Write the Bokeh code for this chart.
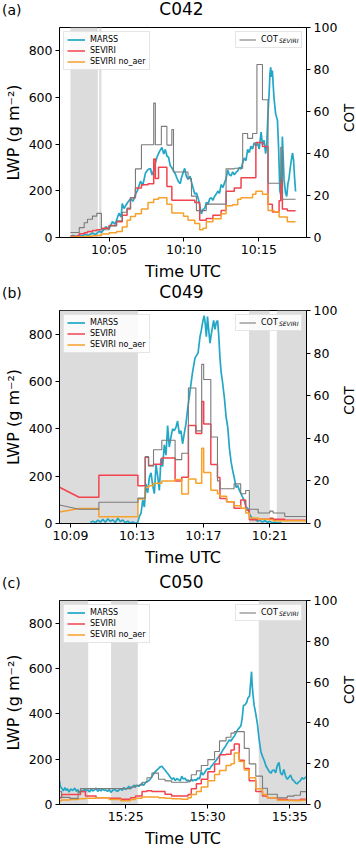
import math
from bokeh.plotting import figure
from bokeh.models import (Range1d, LinearAxis, FixedTicker, Legend, LegendItem,
                          Label, BoxAnnotation)
from bokeh.layouts import column, row
from bokeh.embed import file_html
from bokeh.resources import INLINE

# ---------------- data (time in minutes after midnight UTC) ----------------
# Panel (a) C042
marss_a_t = [602.45, 602.6, 602.8, 603.0, 603.2, 603.4, 603.6, 603.9, 604.1, 604.34, 604.5, 604.78,
             605.0, 605.22, 605.4, 605.66, 605.8, 605.88, 606.0, 606.1, 606.25, 606.43, 606.6, 606.77,
             606.9, 607.1, 607.25, 607.43, 607.6, 607.76, 607.87, 607.98, 608.1, 608.2, 608.35, 608.53,
             608.65, 608.75, 608.87, 608.97, 609.08, 609.19, 609.3, 609.42, 609.53, 609.64, 609.75, 609.83,
             609.95, 610.05, 610.15, 610.27, 610.4, 610.5, 610.6, 610.72, 610.83, 610.94, 611.05, 611.16,
             611.27, 611.38, 611.5, 611.6, 611.72, 611.82, 611.93, 612.04, 612.15, 612.26, 612.37, 612.48,
             612.6, 612.7, 612.81, 612.92, 613.03, 613.14, 613.25, 613.36, 613.47, 613.59, 613.7, 613.81,
             613.92, 614.03, 614.14, 614.25, 614.36, 614.47, 614.58, 614.69, 614.8, 614.91, 615.02, 615.15,
             615.24, 615.35, 615.45, 615.53, 615.6, 615.68, 615.74, 615.79, 615.85, 615.9, 615.96, 616.01,
             616.12, 616.24, 616.32, 616.4, 616.46, 616.52, 616.57, 616.62, 616.68, 616.78, 616.86, 616.94,
             617.01, 617.1, 617.2, 617.25, 617.32, 617.38, 617.45]
marss_a_v = [5, 9, 3, 11, 6, 14, 9, 19, 12, 27, 21, 46,
             37, 68, 57, 104, 88, 145, 124, 136, 151, 166, 156, 186,
             202, 241, 224, 276, 291, 296, 268, 287, 322, 345, 367, 386,
             358, 377, 348, 344, 309, 299, 286, 273, 254, 238, 231, 255,
             280, 296, 264, 249, 263, 238, 214, 186, 191, 169, 139, 101,
             121, 123, 151, 142, 166, 171, 159, 176, 186, 199, 189, 227,
             214, 233, 251, 289, 269, 264, 281, 269, 279, 286, 301, 293,
             321, 341, 329, 378, 364, 391, 379, 406, 394, 404, 379, 452,
             398, 416, 359, 401, 521, 612, 702, 729, 688, 716, 651, 598,
             531, 502, 381, 201, 183, 299, 433, 351, 249, 191, 176, 231,
             252, 301, 346, 362, 329, 261, 197]
sev_a_t = [602.42, 603.01, 603.34, 603.56, 603.89, 604.18, 604.49, 605.0, 605.5, 605.88, 606.2,
           606.43, 606.76, 607.16, 607.6, 607.98, 608.09, 608.3, 608.49, 608.86, 609.19, 609.3,
           609.97, 610.27, 610.5, 610.72, 610.83, 611.05, 611.27, 611.49, 611.6, 611.93, 612.04,
           612.48, 612.81, 613.25, 613.36, 613.59, 613.81, 613.92, 614.25, 614.58, 614.8, 614.87,
           615.24, 615.61, 615.9, 616.01, 616.35, 616.46, 616.57, 616.9, 617.45]
sev_a = [5, 16, 20, 26, 30, 33, 40, 51, 67, 95, 122, 170, 212, 226, 230, 336, 253, 301, 301, 219,
         160, 160, 160, 160, 160, 150, 150, 74, 74, 81, 81, 95, 95, 116, 198, 198, 212, 212, 256,
         256, 256, 256, 407, 407, 390, 143, 109, 109, 157, 246, 122, 115]
noaer_a = [2, 3, 4, 5, 7, 9, 15, 20, 26, 45, 74, 90, 102, 122, 150, 164, 164, 170, 170, 143,
           105, 105, 91, 74, 74, 60, 60, 33, 40, 67, 67, 80, 80, 102, 136, 140, 140, 164, 170,
           170, 170, 185, 198, 198, 185, 116, 116, 110, 88, 88, 88, 67]
cot_a = [2.4, 4.7, 7.0, 8.7, 10.2, 11.5, 3.7, 5.5, 8.0, 12, 14, 19, 32.7, 44.2, 44.2, 64, 44.2,
         44.2, 52.9, 44, 51.4, 31.2, 31.2, 28.1, 19.7, 19.7, 12.8, 12.8, 12.8, 15.9, 15.9, 15.9,
         15.9, 15.9, 32.7, 32.7, 33, 33, 33, 49.5, 47.2, 49.5, 49.5, 82.4, 65.6, 25.8, 25.8, 25.8,
         25.8, 43, 18.2, 18.2]
shade_a_start = [602.42, 604.34]
shade_a_end = [604.25, 604.49]
ticks_a = [605, 610, 615]
labels_a = ["10:05", "10:10", "10:15"]
xlim_a = (601.69, 618.18)

# Panel (b) C049
marss_b_t = [610.2, 610.35, 610.5, 610.65, 610.8, 610.95, 611.1, 611.25, 611.4, 611.55, 611.7, 611.85,
             612.0, 612.15, 612.3, 612.45, 612.6, 612.75, 612.9, 613.05, 613.15, 613.25, 613.35, 613.45,
             613.55, 613.65, 613.75, 613.85, 613.95, 614.05, 614.15, 614.25, 614.35, 614.45, 614.55,
             614.65, 614.75, 614.85, 614.95, 615.05, 615.15, 615.25, 615.35, 615.45, 615.55, 615.65,
             615.75, 615.85, 615.95, 616.05, 616.2, 616.35, 616.5, 616.68, 616.8, 616.88, 616.98,
             617.05, 617.12, 617.18, 617.25, 617.32, 617.4, 617.48, 617.55, 617.62, 617.7, 617.78,
             617.86, 617.93, 618.0, 618.07, 618.15, 618.27, 618.37, 618.47, 618.57, 618.67, 618.77,
             618.87, 618.97, 619.07, 619.17, 619.27, 619.37, 619.47, 619.57, 619.67, 619.77, 619.87,
             619.97, 620.1, 620.25, 620.4, 620.55, 620.7, 620.85, 621.0, 621.15, 621.3, 621.5, 621.7]
marss_b_v = [4, 10, 3, 14, 6, 18, 5, 20, 9, 16, 4, 22,
             8, 15, 3, 10, 2, 6, 1, 4, 30, 44, 99, 70,
             167, 130, 195, 214, 160, 126, 249, 200, 140, 275, 241,
             332, 289, 414, 323, 365, 400, 392, 406, 433, 380, 392,
             337, 380, 420, 480, 560, 640, 700, 720, 790, 817, 858,
             878, 840, 789, 874, 820, 762, 800, 830, 858, 820, 850,
             858, 790, 700, 640, 600, 529, 450, 406, 318, 260, 222,
             190, 153, 160, 140, 126, 110, 95, 70, 64, 40, 30,
             16, 20, 10, 14, 6, 12, 5, 9, 3, 6, 2, 4]
lead_b_t = [608.34, 609.52]
lead_sev_b = [153, 111]
lead_noaer_b = [49, 63]
lead_cot_b = [8.7, 6.7]
sev_b_t = [609.52, 610.71, 613.06, 613.5, 613.7, 614.0, 614.5, 615.3, 615.7, 616.1, 616.55, 616.9,
           617.02, 617.45, 617.85, 618.0, 618.4, 618.85, 619.25, 619.55, 619.77, 620.3, 621.0, 621.2,
           621.9, 623.21]
sev_b = [111, 204, 159, 280, 245, 250, 277, 180, 195, 414, 380, 516, 420, 249, 194, 106, 92, 64,
         99, 57, 16, 18, 22, 18, 14]
noaer_b = [63, 29, 104, 152, 160, 170, 180, 186, 125, 188, 170, 318, 215, 140, 126, 115, 92, 75,
           64, 44, 23, 18, 16, 12, 12]
cot_b = [6.7, 10.0, 11.9, 31.4, 27, 34.6, 39.1, 30, 33, 63.6, 43.5, 74.7, 67.6, 40.6, 20, 16.3,
         16.3, 18.6, 14, 15.5, 6.7, 4.9, 5.8, 4.9, 3.3]
shade_b_start = [608.34, 619.75, 621.42]
shade_b_end = [613.06, 621.0, 623.21]
ticks_b = [609, 613, 617, 621]
labels_b = ["10:09", "10:13", "10:17", "10:21"]
xlim_b = (608.34, 623.21)

# Panel (c) C050
marss_c_t = [920.97, 921.02, 921.1, 921.2, 921.3, 921.37, 921.45, 921.55, 921.65, 921.78, 921.9,
             922.0, 922.1, 922.18, 922.3, 922.4, 922.5, 922.58, 922.7, 922.8, 922.9, 922.99, 923.1,
             923.2, 923.3, 923.39, 923.5, 923.6, 923.7, 923.79, 923.9, 924.0, 924.1, 924.19, 924.3,
             924.4, 924.5, 924.6, 924.7, 924.8, 924.9, 925.0, 925.1, 925.2, 925.3, 925.4, 925.5,
             925.6, 925.7, 925.8, 925.9, 926.0, 926.1, 926.2, 926.3, 926.41, 926.5, 926.61, 926.7,
             926.81, 926.9, 927.01, 927.1, 927.22, 927.3, 927.42, 927.52, 927.62, 927.72, 927.82,
             927.92, 928.02, 928.12, 928.22, 928.32, 928.42, 928.52, 928.62, 928.72, 928.8, 928.9,
             929.0, 929.1, 929.21, 929.3, 929.41, 929.5, 929.61, 929.7, 929.81, 929.9, 930.01,
             930.1, 930.21, 930.3, 930.42, 930.52, 930.62, 930.72, 930.82, 930.92, 931.02, 931.12,
             931.22, 931.32, 931.42, 931.52, 931.62, 931.72, 931.82, 931.92, 932.03, 932.1, 932.18,
             932.28, 932.38, 932.45, 932.55, 932.62, 932.67, 932.72, 932.78, 932.83, 932.93, 933.03,
             933.13, 933.24, 933.35, 933.45, 933.55, 933.64, 933.75, 933.85, 933.94, 934.04, 934.14,
             934.24, 934.34, 934.44, 934.54, 934.64, 934.74, 934.85, 934.95, 935.05, 935.15, 935.25,
             935.35, 935.45, 935.55, 935.65, 935.75, 935.85, 935.95, 936.02]
marss_c_v = [105, 80, 72, 60, 75, 62, 70, 55, 68, 62, 72,
             58, 66, 52, 62, 56, 70, 60, 65, 55, 68, 60, 64,
             72, 58, 66, 60, 70, 62, 64, 58, 66, 54, 60, 68,
             62, 58, 64, 70, 62, 75, 66, 72, 80, 70, 77, 85,
             78, 84, 80, 88, 91, 85, 96, 100, 105, 112, 125, 135,
             145, 152, 159, 166, 168, 160, 150, 140, 132, 120, 111,
             118, 106, 114, 110, 104, 125, 112, 116, 105, 108, 100,
             112, 104, 110, 106, 118, 112, 145, 130, 140, 152, 159,
             155, 168, 175, 186, 195, 206, 215, 227, 240, 250, 262,
             274, 285, 280, 292, 301, 315, 329, 338, 349, 380, 437,
             440, 451, 470, 478, 540, 586, 518, 470, 437, 400, 355,
             288, 233, 210, 193, 170, 159, 145, 138, 150, 152, 140,
             172, 186, 138, 130, 155, 125, 111, 120, 130, 110, 105,
             95, 91, 100, 105, 118, 112, 120, 118]
sev_c_t = [920.97, 921.1, 921.6, 922.1, 922.25, 922.55, 923.2, 924.0, 924.7, 925.3, 925.6, 926.0,
           926.3, 926.6, 927.0, 927.4, 927.8, 928.4, 928.8, 929.0, 929.31, 929.61, 930.01, 930.42,
           930.72, 931.12, 931.42, 931.62, 931.92, 932.23, 932.53, 932.93, 933.34, 933.64, 934.24,
           934.85, 935.25, 935.65, 936.02]
sev_c = [30, 44, 44, 44, 57, 37, 30, 28, 23, 30, 37, 57, 61, 57, 57, 45, 37, 37, 44, 70, 91, 111,
         145, 179, 220, 222, 240, 267, 195, 159, 105, 57, 37, 30, 23, 19, 19, 23]
noaer_c = [16, 20, 22, 25, 25, 28, 30, 22, 16, 22, 28, 33, 33, 33, 30, 28, 25, 23, 30, 44, 57, 77,
           105, 132, 150, 172, 180, 227, 190, 152, 118, 70, 44, 30, 19, 18, 16, 19]
cot_c = [6.3, 3.5, 3.0, 6.3, 7.8, 7.8, 7.8, 7.8, 7.8, 8.5, 9.4, 10.9, 13.1, 15.4, 12.4, 11.6, 10.9,
         10.9, 11.6, 14.6, 16.5, 19.1, 22.0, 26.0, 31.2, 33.0, 35.0, 35.7, 35.7, 27.5, 19.9, 13.9,
         8.0, 5.0, 3.3, 4.1, 4.5, 6.3]
shade_c_start = [920.97, 924.11, 933.11]
shade_c_end = [922.72, 925.74, 936.02]
ticks_c = [925, 930, 935]
labels_c = ["15:25", "15:30", "15:35"]
xlim_c = (920.97, 936.02)

lwp_ticks = [0, 200, 400, 600, 800]
cot_ticks = [0, 20, 40, 60, 80, 100]

for a, b in [(marss_a_t, marss_a_v), (marss_b_t, marss_b_v), (marss_c_t, marss_c_v)]:
    assert len(a) == len(b), (len(a), len(b))
for t, vs in [(sev_a_t, [sev_a, noaer_a, cot_a]), (sev_b_t, [sev_b, noaer_b, cot_b]),
              (sev_c_t, [sev_c, noaer_c, cot_c])]:
    for v in vs:
        assert len(t) == len(v) + 1, (len(t), len(v))

# ---------------- styling ----------------
FONT = "DejaVu Sans"
C_MARSS = "#22a7c6"
C_SEV = "#f2434f"
C_NOAER = "#f5a12c"
C_COT = "#7b7b7b"
SHADE = "#dcdcdc"
MAIN_W = 340
SIDE_W = 16
BL, BR = 57, 34
TOP = 8
TITLE_H = 19


def step_xy(edges, vals, lead_t=None, lead_v=None):
    xs, ys = [], []
    if lead_t:
        xs += list(lead_t)
        ys += list(lead_v)
    for i, v in enumerate(vals):
        xs += [edges[i], edges[i + 1]]
        ys += [v, v]
    return xs, ys


def style_axis(ax, ticks, labels=None, label_standoff=2, axis_standoff=3):
    ax.ticker = FixedTicker(ticks=ticks)
    if labels:
        ax.major_label_overrides = dict(zip(ticks, labels))
    ax.major_label_text_font = FONT
    ax.major_label_text_font_size = "12.5px"
    ax.major_label_text_color = "black"
    ax.axis_label_text_font = FONT
    ax.axis_label_text_font_size = "16px"
    ax.axis_label_text_font_style = "normal"
    ax.axis_label_text_color = "black"
    ax.major_tick_in = 0
    ax.major_tick_out = 4
    ax.minor_tick_line_color = None
    ax.axis_line_color = "black"
    ax.major_tick_line_color = "black"
    ax.major_label_standoff = label_standoff
    ax.axis_label_standoff = axis_standoff


def text_legend(renderer, text, loc, size, row_h, italic=False, label_width=0):
    """A borderless, glyph-less legend used as a free text line."""
    return Legend(items=[LegendItem(label=text, renderers=[renderer])], location=loc,
                  glyph_width=0, glyph_height=int(row_h), label_height=int(row_h),
                  label_standoff=0, label_width=int(round(label_width)), padding=0, margin=0,
                  spacing=0, border_line_color=None, background_fill_alpha=0,
                  label_text_font=FONT, label_text_font_size=size, label_text_color="black",
                  label_text_font_style="italic" if italic else "normal")


def bare(width, height, xr, yr):
    f = figure(width=width, height=height, x_range=Range1d(*xr), y_range=Range1d(*yr),
               x_axis_type=None, y_axis_type=None, output_backend="svg",
               toolbar_location=None, min_border=0)
    f.grid.visible = False
    f.outline_line_color = None
    f.background_fill_color = "white"
    f.border_fill_color = "white"
    return f


def title_strip(tag, name):
    t = bare(MAIN_W + SIDE_W, TITLE_H, (0, MAIN_W + SIDE_W), (0, TITLE_H))
    anchor = t.line(x=[], y=[], line_alpha=0)
    name_w = 2.606 * 17  # approx. text width of the title at 17px
    t.add_layout(text_legend(anchor, tag, (2, 0), "14px", TITLE_H))
    t.add_layout(text_legend(anchor, name, (BL + (MAIN_W - BL - BR) / 2 - name_w / 2, 0),
                             "17px", TITLE_H))
    return t


def side_strip(height, top, bottom):
    s = bare(SIDE_W, height, (0, SIDE_W), (0, height))
    s.add_layout(Label(x=SIDE_W / 2, y=bottom + (height - top - bottom) / 2, text="COT",
                       angle=math.pi / 2, text_font=FONT, text_font_size="13.5px",
                       text_color="black", text_align="center", text_baseline="middle"))
    return s


def panel(xlim, ticks, labels, mt, mv, st, sev, noaer, cot, sh0, sh1,
          height, bottom, lead=None):
    p = figure(width=MAIN_W, height=height, x_range=Range1d(*xlim), y_range=Range1d(0, 900),
               output_backend="svg", toolbar_location=None,
               min_border_left=BL, min_border_right=BR, min_border_top=TOP,
               min_border_bottom=bottom)
    p.extra_y_ranges = {"cot": Range1d(0, 100)}
    p.grid.visible = False
    p.outline_line_color = "black"
    p.outline_line_width = 1
    p.background_fill_color = "white"
    p.border_fill_color = "white"

    style_axis(p.xaxis[0], ticks, labels, label_standoff=0, axis_standoff=2)
    p.xaxis[0].axis_label = "Time UTC"
    style_axis(p.yaxis[0], lwp_ticks, label_standoff=3, axis_standoff=3)
    p.yaxis[0].axis_label = "LWP (g m\u207b\u00b2)"
    ax_r = LinearAxis(y_range_name="cot")
    style_axis(ax_r, cot_ticks, label_standoff=3)
    p.add_layout(ax_r, "right")

    for a, b in zip(sh0, sh1):
        p.add_layout(BoxAnnotation(left=a, right=b, fill_color=SHADE, fill_alpha=1.0,
                                   line_color=None, level="underlay"))

    r_m = p.line(mt, mv, line_color=C_MARSS, line_width=1.7)
    lt = lead[0] if lead else None
    xs, ys = step_xy(st, sev, lt, lead[1] if lead else None)
    r_s = p.line(xs, ys, line_color=C_SEV, line_width=1.5)
    xs, ys = step_xy(st, noaer, lt, lead[2] if lead else None)
    r_n = p.line(xs, ys, line_color=C_NOAER, line_width=1.5)
    xs, ys = step_xy(st, cot, lt, lead[3] if lead else None)
    r_c = p.line(xs, ys, line_color=C_COT, line_width=1.1, y_range_name="cot")
    r_txt = p.line(x=[], y=[], line_alpha=0)   # invisible anchor for the text-only legend

    common = dict(label_text_font=FONT, label_text_font_size="8px", label_text_color="black",
                  glyph_height=9, label_height=9, label_standoff=5, spacing=2, padding=3,
                  margin=4, border_line_color="#cccccc", border_line_width=1,
                  background_fill_alpha=0.85)
    leg1 = Legend(items=[LegendItem(label="MARSS", renderers=[r_m]),
                         LegendItem(label="SEVIRI", renderers=[r_s]),
                         LegendItem(label="SEVIRI no_aer", renderers=[r_n])],
                  location="top_left", glyph_width=18, **common)
    leg2 = Legend(items=[LegendItem(label="COT", renderers=[r_c])],
                  location="top_right", glyph_width=17, label_width=37, **common)
    p.add_layout(leg1)
    p.add_layout(leg2)

    # italic subscript "SEVIRI" after the "COT" legend label (anchored to the frame top-right)
    sub_w = 3.24 * 6
    p.add_layout(text_legend(r_txt, "SEVIRI", "top_right", "6px", 27, italic=True,
                             label_width=sub_w + 7.5))
    return p


H1, B1 = 264, 45
H2, B2 = 271, 50
H3, B3 = 258, 40

p1 = panel(xlim_a, ticks_a, labels_a, marss_a_t, marss_a_v, sev_a_t, sev_a,
           noaer_a, cot_a, shade_a_start, shade_a_end, H1, B1)
p2 = panel(xlim_b, ticks_b, labels_b, marss_b_t, marss_b_v, sev_b_t, sev_b,
           noaer_b, cot_b, shade_b_start, shade_b_end, H2, B2,
           lead=(lead_b_t, lead_sev_b, lead_noaer_b, lead_cot_b))
p3 = panel(xlim_c, ticks_c, labels_c, marss_c_t, marss_c_v, sev_c_t, sev_c,
           noaer_c, cot_c, shade_c_start, shade_c_end, H3, B3)

layout = column(
    title_strip("(a)", "C042"), row(p1, side_strip(H1, TOP, B1)),
    title_strip("(b)", "C049"), row(p2, side_strip(H2, TOP, B2)),
    title_strip("(c)", "C050"), row(p3, side_strip(H3, TOP, B3)),
)
open("out.html", "w").write(file_html(layout, INLINE))
